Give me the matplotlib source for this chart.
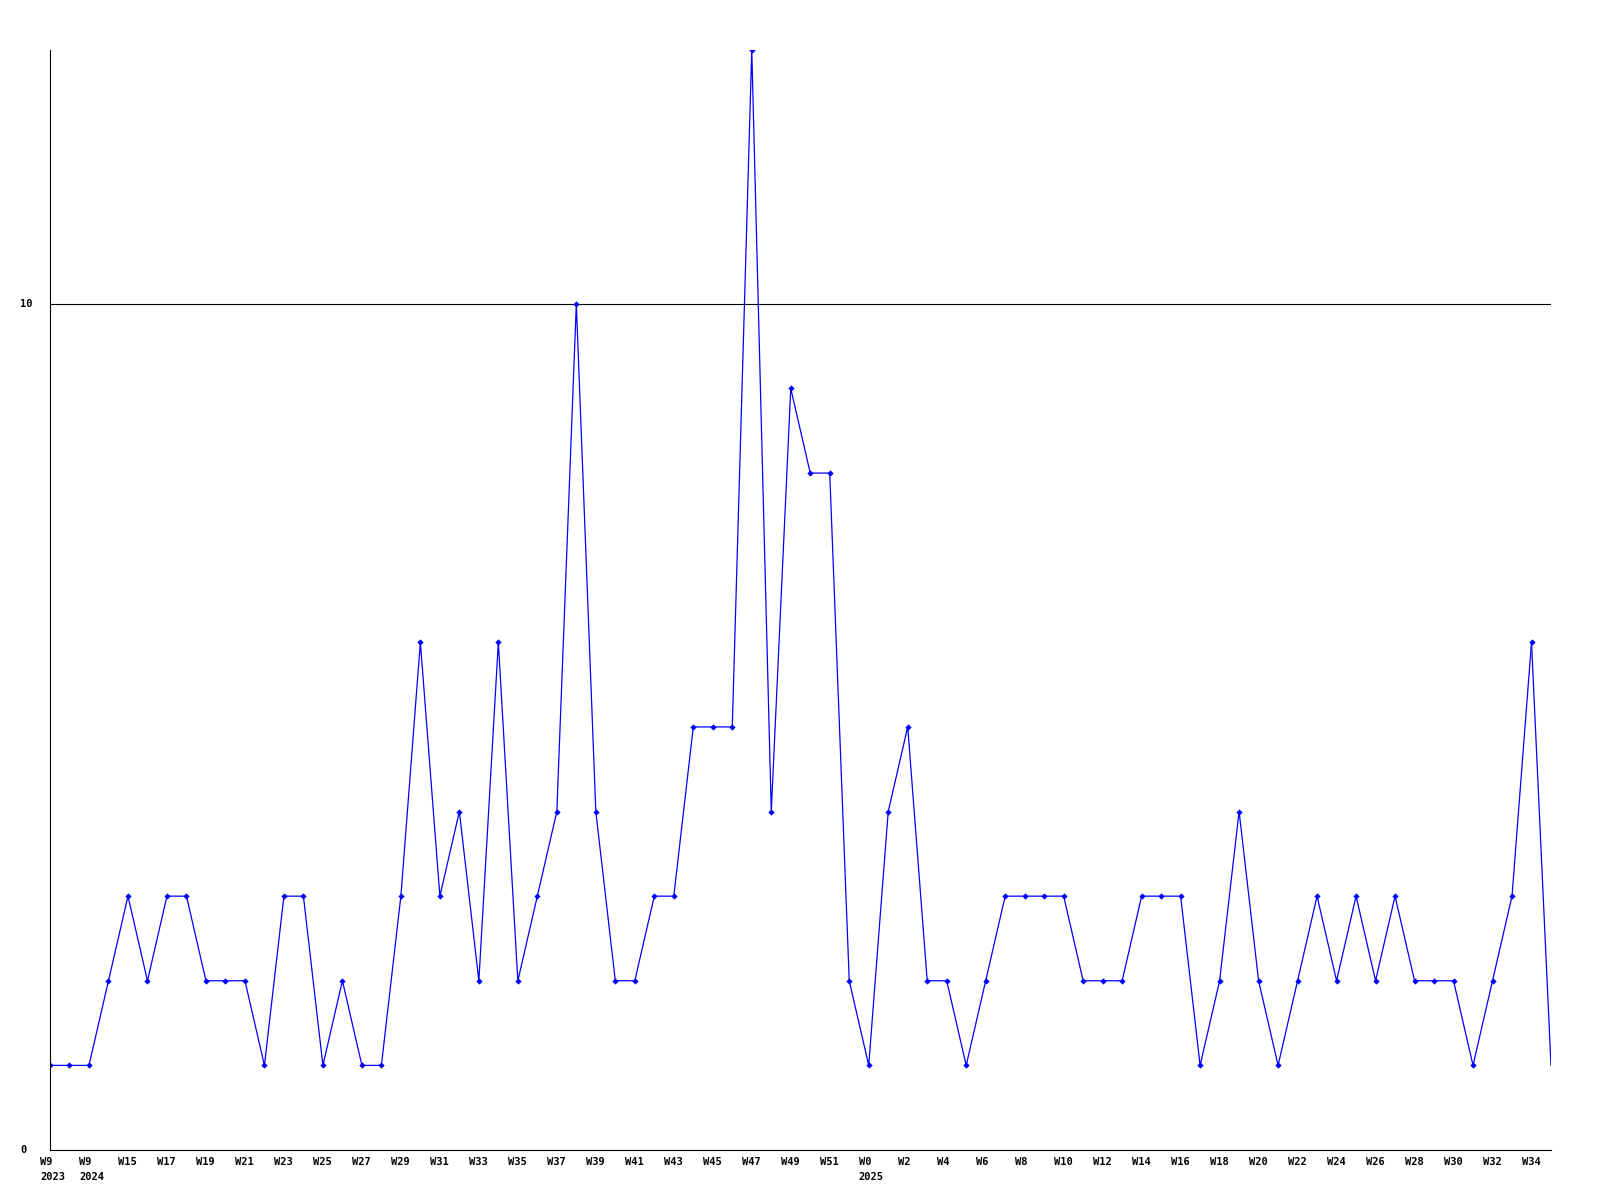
import matplotlib.pyplot as plt
from matplotlib.transforms import blended_transform_factory, offset_copy

# weekly counts, one per point
values = [1, 1, 1, 2, 3, 2, 3, 3, 2, 2, 2, 1, 3, 3, 1, 2, 1, 1, 3, 6,
          3, 4, 2, 6, 2, 3, 4, 10, 4, 2, 2, 3, 3, 5, 5, 5, 13, 4, 9, 8,
          8, 2, 1, 4, 5, 2, 2, 1, 2, 3, 3, 3, 3, 2, 2, 2, 3, 3, 3, 1,
          2, 4, 2, 1, 2, 3, 2, 3, 2, 3, 2, 2, 2, 1, 2, 3, 6, 1]

# labels on every second point
week_labels = ['W9', 'W9', 'W15', 'W17', 'W19', 'W21', 'W23', 'W25', 'W27', 'W29',
               'W31', 'W33', 'W35', 'W37', 'W39', 'W41', 'W43', 'W45', 'W47', 'W49',
               'W51', 'W0', 'W2', 'W4', 'W6', 'W8', 'W10', 'W12', 'W14', 'W16',
               'W18', 'W20', 'W22', 'W24', 'W26', 'W28', 'W30', 'W32', 'W34']
year_labels = {0: '2023', 1: '2024', 21: '2025'}

y_ticks = [0, 10]

fig = plt.figure(figsize=(16, 12), dpi=100)
ax = fig.add_axes([50 / 1600, 50 / 1200, 1501 / 1600, 1100 / 1200])

x = list(range(len(values)))
ax.plot(x[:-1], values[:-1], color='#0000ff', linewidth=0.9, marker='D',
        markersize=3.2, markeredgewidth=0)
ax.plot(x[-2:], values[-2:], color='#0000ff', linewidth=0.9)

ax.set_xlim(0, len(values) - 1)
ax.set_ylim(0, 13)

for s in ['top', 'right']:
    ax.spines[s].set_visible(False)
for s in ['left', 'bottom']:
    ax.spines[s].set_linewidth(0.8)
    ax.spines[s].set_color('black')

ax.set_xticks([])
ax.set_yticks([])
ax.axhline(10, color='black', linewidth=0.8, zorder=0)

font = dict(family='DejaVu Sans Mono', fontweight='bold', fontsize=7.5, color='black')

trans = blended_transform_factory(ax.transData, ax.transAxes)
lab_trans = offset_copy(trans, fig=fig, x=-10, y=0, units='dots')
for i, lab in enumerate(week_labels):
    ax.text(2 * i, -0.011, lab, transform=lab_trans, ha='left', va='center', **font)
    if i in year_labels:
        ax.text(2 * i, -0.025, year_labels[i], transform=lab_trans, ha='left',
                va='center', **font)

ytrans = blended_transform_factory(fig.transFigure, ax.transData)
for v in y_ticks:
    fig.text(20 / 1600, v, str(v), transform=ytrans, ha='left', va='center', **font)

fig.savefig('out.png', dpi=100)
